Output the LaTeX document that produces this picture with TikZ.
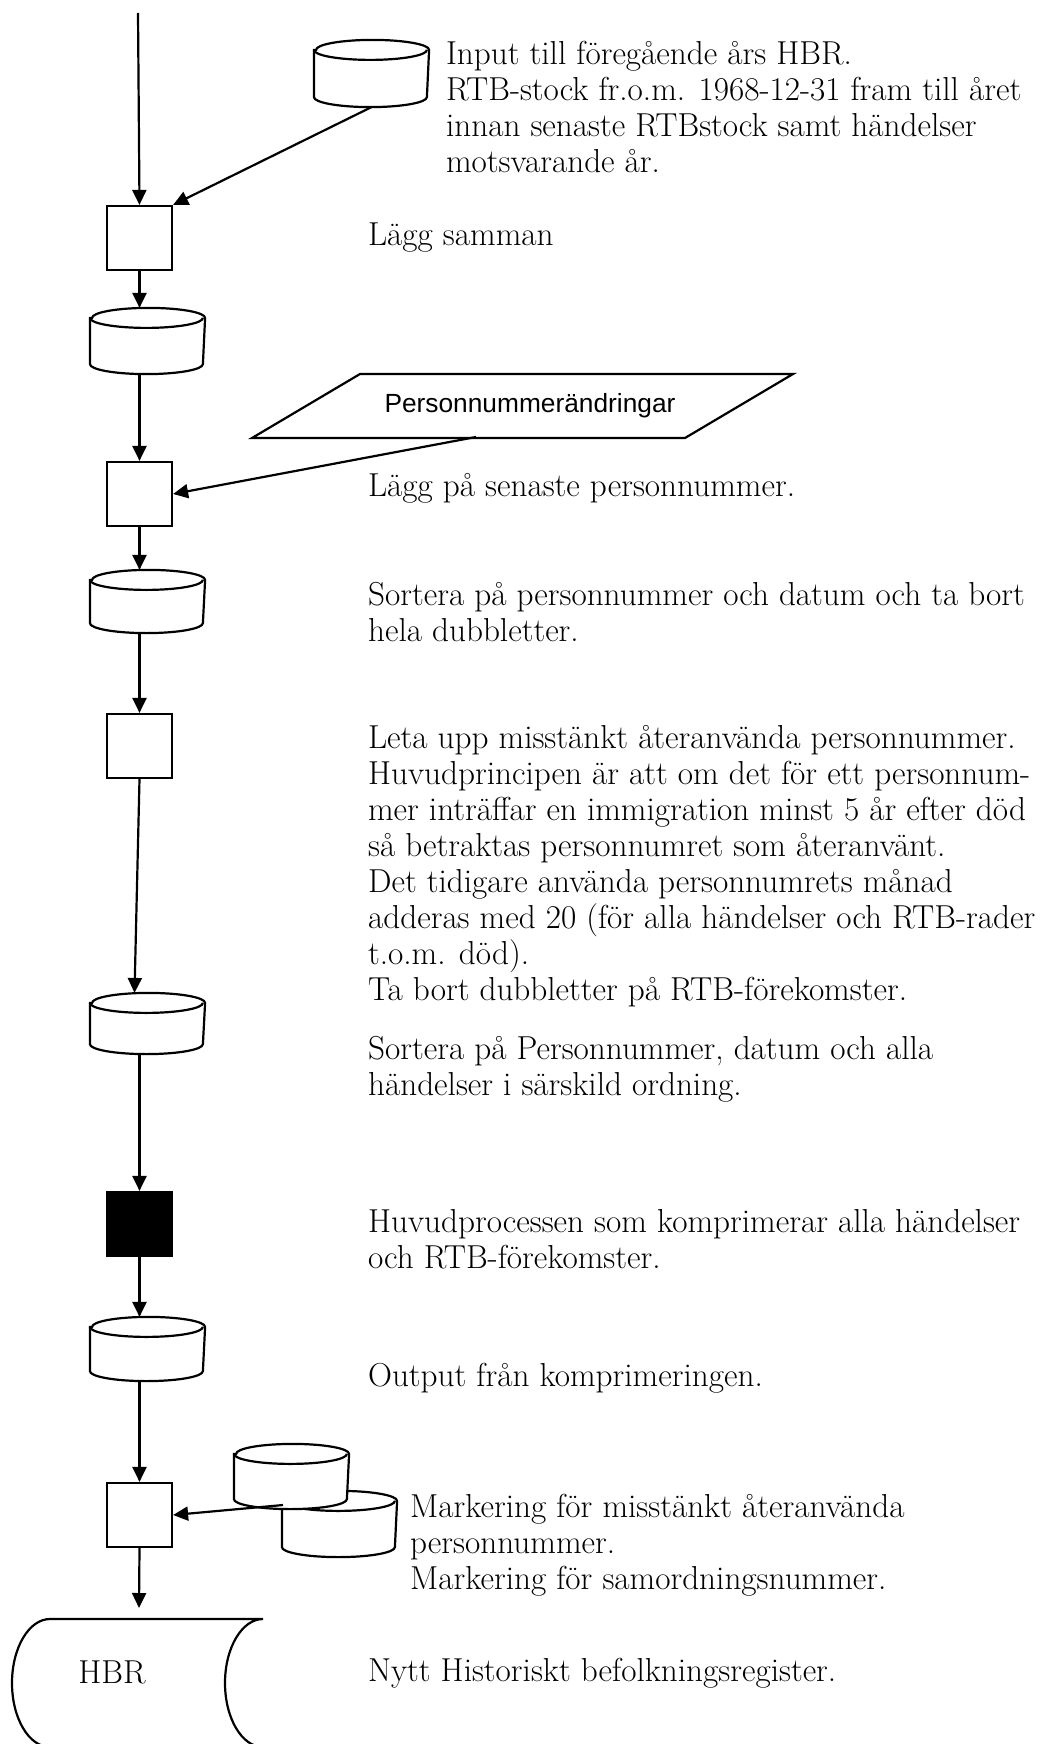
\documentclass[tikz,border=0pt]{standalone}
\usepackage{fontspec}
\newfontfamily\arialf{Liberation Sans}
\usetikzlibrary{arrows.meta,calc}
\newcommand\tl[1]{\begin{tabular}[t]{@{}l@{}}#1\end{tabular}}
\newcommand\dbcyl[5]{%
  \node[inner sep=0pt, minimum width={2*#5pt}, minimum height={(#4-#3)*1pt}] (#1) at (#2,{(#3+#4)/2}) {};
  \draw[fill=white] ($(#1.north west)+(0pt,-10pt)$) -- ($(#1.south west)+(0pt,10pt)$)
     arc[start angle=180,end angle=360,x radius=#5pt,y radius=10pt]
     -- ($(#1.north east)+(0pt,-10pt)$)
     arc[start angle=0,end angle=180,x radius=#5pt,y radius=10pt] -- cycle;
  \draw ($(#1.north west)+(0pt,-10pt)$) arc[start angle=180,end angle=360,x radius=#5pt,y radius=10pt];
}
\tikzset{
  arr/.style={-{Triangle[length=15pt,width=14pt]}},
  proc/.style={draw, inner sep=0pt, minimum width=65pt, minimum height=64pt},
  txt/.style={inner sep=0pt, anchor=base west, font=\fontsize{33.2}{36}\selectfont},
}
\begin{document}
\begin{tikzpicture}[x=1pt, y=-1pt, line width=2.2pt]
\useasboundingbox (0,0) rectangle (1047,1744);
\clip (0,0) rectangle (1047,1744);
% main column
\coordinate (start) at (138,13);
\node[proc] (b1) at (139.5,238) {};
\dbcyl{c1}{371.5}{41}{106}{56.5}
\dbcyl{c2}{147.5}{309}{373}{56.5}
\node[proc] (b2) at (139.5,494) {};
\dbcyl{c3}{147.5}{571}{632}{56.5}
\node[proc] (b3) at (139.5,746) {};
\dbcyl{c4}{147.5}{994}{1053}{56.5}
\node[proc, fill=black] (b4) at (139.5,1224) {};
\dbcyl{c5}{147.5}{1318}{1380}{56.5}
\node[proc] (b5) at (139.5,1515) {};
% stacked cylinders
\dbcyl{sB}{339.5}{1492}{1556}{56.5}
\dbcyl{sA}{291.5}{1445}{1508}{56.5}
\coordinate (sBout) at (283,1505);
% parallelogram
\draw (252,438) -- (360,374) -- (793,374) -- (685,438) -- cycle;
\node[inner sep=0pt, anchor=base, font=\arialf\fontsize{26.3}{30}\selectfont] (pn) at (530,412) {Personnummerändringar};
\coordinate (pnout) at (476,437);
% HBR stored data
\draw (50,1619) -- (263,1619) arc[start angle=90,end angle=270,x radius=38pt,y radius=64pt]
   -- (50,1747) arc[start angle=270,end angle=90,x radius=38pt,y radius=64pt];
\node[inner sep=0pt, font=\fontsize{33.2}{36}\selectfont] (hbr) at (112,1672) {HBR};
\coordinate (hbrtop) at (139,1608);
% connectors
\draw[arr] (start) -- (b1.north);
\draw[arr] (c1.south) -- (b1.north east);
\draw[arr] (b1.south) -- (c2.north -| b1.south);
\draw[arr] (c2.south -| b2.north) -- (b2.north);
\draw[arr] (pnout) -- (b2.east);
\draw[arr] (b2.south) -- (c3.north -| b2.south);
\draw[arr] (c3.south -| b3.north) -- (b3.north);
\draw[arr] (b3.south) -- ($(c4.north)+(-13,0)$);
\draw[arr] (c4.south -| b4.north) -- (b4.north);
\draw[arr] (b4.south) -- (c5.north -| b4.south);
\draw[arr] (c5.south -| b5.north) -- (b5.north);
\draw[arr] (sBout) -- (b5.east);
\draw[arr] (b5.south) -- (hbrtop);
% texts
\node[txt] (t1) at (445,65) {\tl{Input till föregående års HBR.\\RTB-stock fr.o.m. 1968-12-31 fram till året\\innan senaste RTBstock samt händelser\\motsvarande år.}};
\node[txt] (t2) at (367,246) {Lägg samman};
\node[txt] (t3) at (367,496) {Lägg på senaste personnummer.};
\node[txt] (t4) at (367,605) {\tl{Sortera på personnummer och datum och ta bort\\hela dubbletter.}};
\node[txt] (t5) at (367,748) {\tl{Leta upp misstänkt återanvända personnummer.\\Huvudprincipen är att om det för ett personnum-\\mer inträffar en immigration minst 5 år efter död\\så betraktas personnumret som återanvänt.\\Det tidigare använda personnumrets månad\\adderas med 20 (för alla händelser och RTB-rader\\t.o.m. död).\\Ta bort dubbletter på RTB-förekomster.}};
\node[txt] (t6) at (367,1059) {\tl{Sortera på Personnummer, datum och alla\\händelser i särskild ordning.}};
\node[txt] (t7) at (367,1232) {\tl{Huvudprocessen som komprimerar alla händelser\\och RTB-förekomster.}};
\node[txt] (t8) at (367,1386) {Output från komprimeringen.};
\node[txt] (t9) at (409,1517) {\tl{Markering för misstänkt återanvända\\personnummer.\\Markering för samordningsnummer.}};
\node[txt] (t10) at (367,1681) {Nytt Historiskt befolkningsregister.};
\end{tikzpicture}
\end{document}
